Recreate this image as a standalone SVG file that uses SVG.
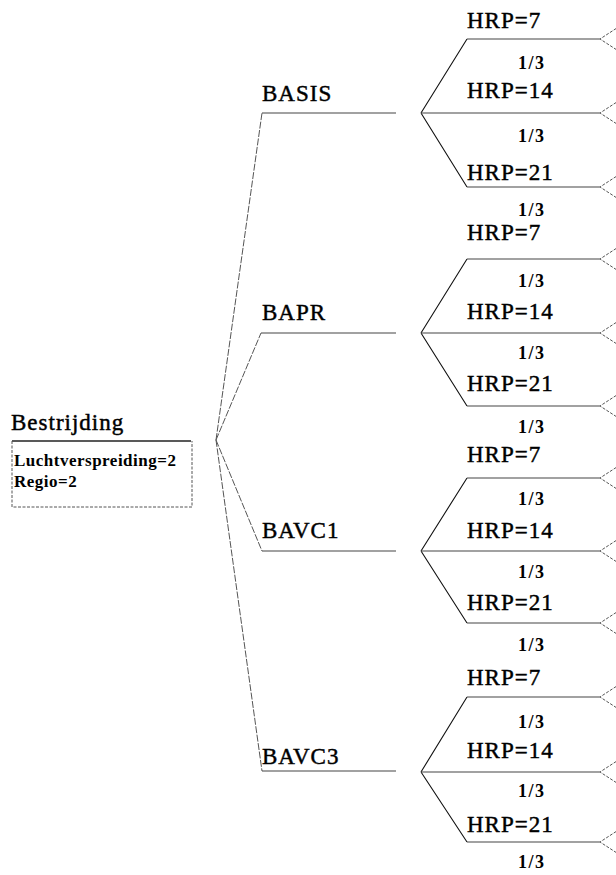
<svg xmlns="http://www.w3.org/2000/svg" width="616" height="875" viewBox="0 0 616 875">
<style>
.lbl{font-family:"Liberation Serif","Times New Roman",serif;font-size:23px;letter-spacing:1px;fill:#000;stroke:#000;stroke-width:0.45px}
.pr{font-family:"Liberation Serif","Times New Roman",serif;font-size:18px;font-weight:bold;letter-spacing:1.5px;fill:#000}
.box{font-family:"Liberation Serif","Times New Roman",serif;font-size:17px;font-weight:bold;letter-spacing:0.5px;fill:#000}
.d{fill:none;stroke:#111;stroke-width:1.1}
.h{fill:none;stroke:#444;stroke-width:1.2}
.r{fill:none;stroke:#555;stroke-width:1;stroke-dasharray:7 1.5}
.t{fill:none;stroke:#555;stroke-width:1;stroke-dasharray:3 1.5}
</style>
<g id="connectors">
  <path class="r" d="M216 440 L262 113 M216 440 L261 333 M216 440 L262 551 M216 440 L262 771"/>
  <path class="h" d="M262 113 H396 M261 333 H396 M262 551 H396 M262 771 H396"/>
  <path class="d" d="M421 113 L467 39 M421 113 L467 187"/>
  <path class="h" d="M467 39 H600 M421 113 H600 M467 187 H600"/>
  <path class="d" d="M421 333 L467 259 M421 333 L467 406"/>
  <path class="h" d="M467 259 H600 M421 333 H600 M467 406 H600"/>
  <path class="d" d="M421 551 L467 478 M421 551 L467 623"/>
  <path class="h" d="M467 478 H600 M421 551 H600 M467 623 H600"/>
  <path class="d" d="M421 772 L467 697 M421 772 L467 842"/>
  <path class="h" d="M467 697 H600 M421 772 H600 M467 842 H600"/>
</g>
<g id="root">
  <text class="lbl" x="11" y="430" letter-spacing="0.5">Bestrijding</text>
  <line x1="12" y1="441" x2="191" y2="441" stroke="#222" stroke-width="1.3"/>
  <path class="t" d="M12 441 V507 H192 V441"/>
  <text class="box" x="14" y="466">Luchtverspreiding=2</text>
  <text class="box" x="14" y="487">Regio=2</text>
</g>
<g id="basis"><text class="lbl" x="262" y="101">BASIS</text></g>
<g id="bapr"><text class="lbl" x="262" y="320">BAPR</text></g>
<g id="bavc1"><text class="lbl" x="262" y="538">BAVC1</text></g>
<g id="bavc3"><text class="lbl" x="262" y="764">BAVC3</text></g>
<g id="chance-basis">
  <text class="lbl" x="467" y="28">HRP=7</text><text class="pr" x="518" y="69">1/3</text>
  <text class="lbl" x="467" y="98">HRP=14</text><text class="pr" x="518" y="142">1/3</text>
  <text class="lbl" x="467" y="180">HRP=21</text><text class="pr" x="518" y="216">1/3</text>
</g>
<g id="chance-bapr">
  <text class="lbl" x="467" y="240">HRP=7</text><text class="pr" x="518" y="287">1/3</text>
  <text class="lbl" x="467" y="319">HRP=14</text><text class="pr" x="518" y="359">1/3</text>
  <text class="lbl" x="467" y="391">HRP=21</text><text class="pr" x="518" y="433">1/3</text>
</g>
<g id="chance-bavc1">
  <text class="lbl" x="467" y="462">HRP=7</text><text class="pr" x="518" y="505">1/3</text>
  <text class="lbl" x="467" y="538">HRP=14</text><text class="pr" x="518" y="578">1/3</text>
  <text class="lbl" x="467" y="610">HRP=21</text><text class="pr" x="518" y="651">1/3</text>
</g>
<g id="chance-bavc3">
  <text class="lbl" x="467" y="685">HRP=7</text><text class="pr" x="518" y="728">1/3</text>
  <text class="lbl" x="467" y="758">HRP=14</text><text class="pr" x="518" y="797">1/3</text>
  <text class="lbl" x="467" y="832">HRP=21</text><text class="pr" x="518" y="868">1/3</text>
</g>
<g id="terminals">
  <path class="t" d="M620 26 L600 39 L620 52 M620 100 L600 113 L620 126 M620 174 L600 187 L620 200"/>
  <path class="t" d="M620 246 L600 259 L620 272 M620 320 L600 333 L620 346 M620 393 L600 406 L620 419"/>
  <path class="t" d="M620 465 L600 478 L620 491 M620 538 L600 551 L620 564 M620 610 L600 623 L620 636"/>
  <path class="t" d="M620 684 L600 697 L620 710 M620 759 L600 772 L620 785 M620 829 L600 842 L620 855"/>
</g>
</svg>
